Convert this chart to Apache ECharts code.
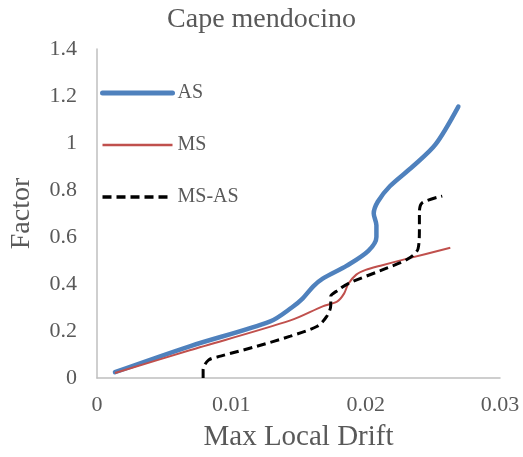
<!DOCTYPE html>
<html>
<head>
<meta charset="utf-8">
<script src="https://cdn.jsdelivr.net/npm/echarts@6/dist/echarts.min.js"></script>
<style>
  html, body { margin: 0; padding: 0; background: #fff; }
  #chart1 { width: 523px; height: 457px; }
</style>
</head>
<body>
<div id="chart1"></div>
<script>
// drift / factor pairs
var asDrift = [0.00134, 0.0069, 0.0129, 0.0145, 0.0153, 0.0161, 0.0168, 0.0186, 0.0202, 0.0208, 0.0208, 0.0206, 0.0209, 0.0218, 0.0235, 0.0252, 0.0269];
var asFactor = [0.025, 0.135, 0.241, 0.30, 0.338, 0.39, 0.423, 0.478, 0.541, 0.60, 0.65, 0.70, 0.75, 0.816, 0.90, 0.994, 1.155];

var msDrift = [0.00134, 0.0069, 0.0144, 0.0168, 0.0179, 0.0184, 0.0187, 0.0193, 0.0200, 0.0211, 0.0231, 0.0263];
var msFactor = [0.021, 0.118, 0.245, 0.305, 0.326, 0.36, 0.40, 0.44, 0.46, 0.478, 0.508, 0.554];

var diffDrift = [0.0079, 0.0079, 0.0083, 0.0092, 0.0119, 0.0144, 0.0164, 0.0171, 0.0174, 0.0174, 0.0179, 0.0187, 0.0211, 0.0231, 0.0239, 0.0240, 0.0240, 0.0242, 0.0257];
var diffFactor = [0, 0.034, 0.076, 0.093, 0.135, 0.178, 0.22, 0.262, 0.309, 0.347, 0.372, 0.402, 0.457, 0.505, 0.55, 0.635, 0.706, 0.745, 0.774];

var seriesNames = ['AS', 'MS', 'MS-AS'];

function pairs(xs, ys) {
    var out = [];
    for (var i = 0; i < xs.length; i++) out.push([xs[i], ys[i]]);
    return out;
}

var font = '"Liberation Serif", "Times New Roman", serif';
var myChart1 = echarts.init(document.getElementById('chart1'));

myChart1.setOption({
    animation: false,
    textStyle: { fontFamily: font, color: '#595959' },
    title: {
        text: 'Cape mendocino',
        left: 'center',
        top: 1,
        textStyle: { fontFamily: font, fontSize: 28, fontWeight: 'normal', color: '#595959' }
    },
    legend: {
        data: [
            { name: seriesNames[0], lineStyle: { width: 5, cap: 'round' } },
            { name: seriesNames[1], lineStyle: { width: 2.5 } },
            { name: seriesNames[2], lineStyle: { width: 3.5 } }
        ],
        orient: 'vertical',
        left: 95,
        top: 78,
        itemWidth: 70,
        itemHeight: 14,
        itemGap: 32,
        itemStyle: { opacity: 0 },
        textStyle: { fontFamily: font, fontSize: 20, color: '#595959' }
    },
    grid: { left: 97, right: 23, top: 49, bottom: 77 },
    xAxis: {
        type: 'value',
        min: 0,
        max: 0.03,
        interval: 0.01,
        name: 'Max Local Drift',
        nameLocation: 'middle',
        nameGap: 45,
        nameTextStyle: { fontFamily: font, fontSize: 29, color: '#595959' },
        axisLine: { show: true, lineStyle: { color: '#bfbfbf', width: 1.5 } },
        axisTick: { show: false },
        splitLine: { show: false },
        axisLabel: { fontFamily: font, fontSize: 22, color: '#595959', margin: 16 }
    },
    yAxis: {
        type: 'value',
        min: 0,
        max: 1.4,
        interval: 0.2,
        name: 'Factor',
        nameLocation: 'middle',
        nameGap: 61,
        nameTextStyle: { fontFamily: font, fontSize: 28, color: '#595959' },
        axisLine: { show: true, lineStyle: { color: '#bfbfbf', width: 1.5 } },
        axisTick: { show: false },
        splitLine: { show: false },
        axisLabel: { fontFamily: font, fontSize: 22, color: '#595959', margin: 20 }
    },
    series: [
        {
            name: seriesNames[0],
            type: 'line',
            data: pairs(asDrift, asFactor),
            smooth: 0.3,
            symbol: 'none',
            lineStyle: { color: '#4f81bd', width: 4.5, cap: 'round' },
            itemStyle: { color: '#4f81bd' }
        },
        {
            name: seriesNames[1],
            type: 'line',
            data: pairs(msDrift, msFactor),
            smooth: 0.3,
            symbol: 'none',
            lineStyle: { color: '#c0504d', width: 2 },
            itemStyle: { color: '#c0504d' }
        },
        {
            name: seriesNames[2],
            type: 'line',
            data: pairs(diffDrift, diffFactor),
            smooth: 0.3,
            symbol: 'none',
            lineStyle: { color: '#000', width: 3, type: [9, 5] },
            itemStyle: { color: '#000' }
        }
    ]
});

window.onresize = function () {
    myChart1.resize();
}
</script>
</body>
</html>
